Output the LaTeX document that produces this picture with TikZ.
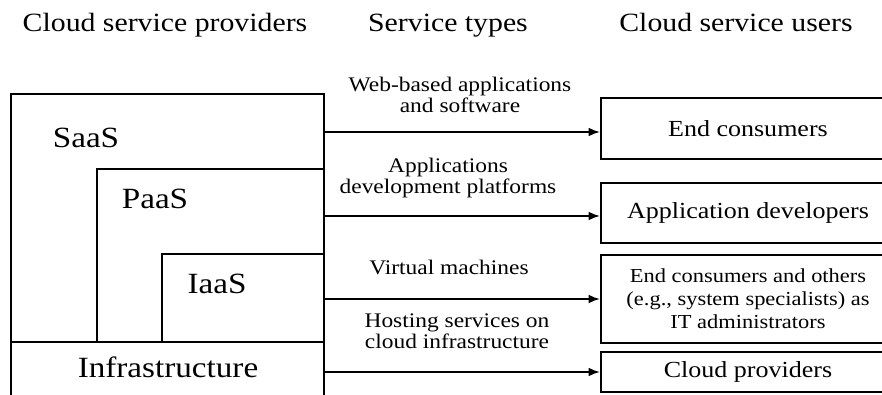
\documentclass[tikz,border=0pt]{standalone}
\usepackage{fontspec}
\setmainfont{Liberation Serif}[FakeStretch=1.13]
\usetikzlibrary{arrows.meta}

\begin{document}
\begin{tikzpicture}[
  line width=1.1pt,
  >={Latex[length=6.5pt,width=5pt]},
  heading/.style={anchor=base, font=\fontsize{15}{18}\selectfont},
  layer/.style={font=\fontsize{16.7}{19}\selectfont},
  service/.style={align=center, font=\fontsize{11.8}{12}\selectfont},
  user/.style={draw, minimum width=5.88cm, align=center, font=\fontsize{13.1}{15}\selectfont}
]
  \useasboundingbox (0,0) rectangle (17.64,7.88);

  % Column headings.
  \node[heading] (hprov) at (3.3,7.25) {Cloud service providers};
  \node[heading] (htype) at (8.96,7.25) {Service types};
  \node[heading] (huser) at (14.72,7.25) {Cloud service users};

  % Provider stack, nested layers.
  \draw (0.22,1.04) rectangle (6.48,6.0);
  \draw (1.94,1.04) |- (6.48,4.5);
  \draw (3.24,1.04) |- (6.48,2.8);
  \draw (0.22,-0.3) rectangle (6.48,1.04);

  \node[layer] (saas) at (1.72,5.12) {SaaS};
  \node[layer] (paas) at (3.1,3.9) {PaaS};
  \node[layer] (iaas) at (4.34,2.2) {IaaS};
  \node[layer] (infra) at (3.36,0.54) {Infrastructure};

  % Users.
  \node[user, minimum height=1.22cm] (endc) at (14.96,5.31) {End consumers};
  \node[user, minimum height=1.2cm] (devs) at (14.96,3.62) {Application developers};
  \node[user, minimum height=1.76cm, font=\fontsize{11.3}{13}\selectfont] (admins) at (14.96,1.9)
    {End consumers and others\\(e.g., system specialists) as\\IT administrators};
  \node[user, minimum height=0.8cm] (cprov) at (14.96,0.44) {Cloud providers};

  % Service types.
  \node[service] (web) at (9.2,5.99) {Web-based applications\\and software};
  \node[service] (plat) at (8.96,4.32) {Applications\\development platforms};
  \node[service] (vm) at (8.98,2.54) {Virtual machines};
  \node[service] (host) at (9.14,1.25) {Hosting services on\\cloud infrastructure};

  % Arrows from the stack to the users.
  \coordinate (s1) at (6.48,5.24);
  \coordinate (s2) at (6.48,3.56);
  \coordinate (s3) at (6.48,1.9);
  \coordinate (s4) at (6.48,0.44);
  \draw[->] (s1) -- (s1 -| endc.west);
  \draw[->] (s2) -- (s2 -| devs.west);
  \draw[->] (s3) -- (s3 -| admins.west);
  \draw[->] (s4) -- (s4 -| cprov.west);

\end{tikzpicture}
\end{document}
